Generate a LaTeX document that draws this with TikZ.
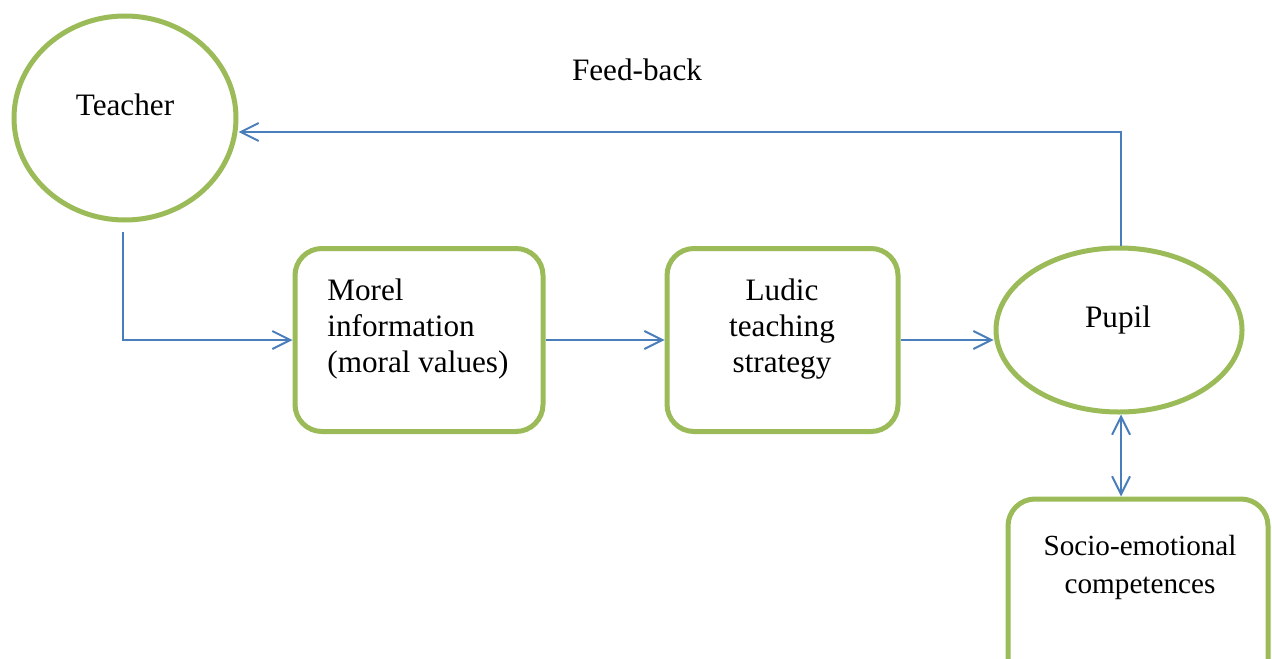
\documentclass[tikz,border=0pt]{standalone}
\usepackage{fontspec}
\setmainfont{Liberation Serif}
\usetikzlibrary{arrows.meta,shapes.geometric}
\definecolor{olivegreen}{HTML}{9BBB59}
\definecolor{linkblue}{HTML}{4A7EBB}
\tikzset{
  oval/.style={ellipse, draw=olivegreen, line width=2.5pt, inner sep=0pt},
  roundbox/.style={rectangle, rounded corners=13.5pt, draw=olivegreen, line width=2.5pt, inner sep=0pt},
  lbl/.style={inner sep=0pt, font=\fontsize{15.6}{18}\selectfont},
  smalllbl/.style={inner sep=0pt, font=\fontsize{14.6}{19}\selectfont},
  conn/.style={draw=linkblue, line width=1pt, -{Straight Barb[length=9pt,width=9pt]}},
  biconn/.style={draw=linkblue, line width=1pt, {Straight Barb[length=9pt,width=9pt]}-{Straight Barb[length=9pt,width=9pt]}}
}
\begin{document}
\begin{tikzpicture}[x=0.5pt,y=-0.5pt]
\clip (0,0) rectangle (1272,658);
% shapes
\node[oval, minimum width=111pt, minimum height=102pt] (teacher) at (125,118) {};
\node[roundbox, minimum width=124pt, minimum height=91.5pt] (morel) at (419,340) {};
\node[roundbox, minimum width=115.5pt, minimum height=91.5pt] (ludic) at (782.5,340) {};
\node[oval, minimum width=123pt, minimum height=82pt] (pupil) at (1119,330) {};
\node[roundbox, minimum width=130pt, minimum height=130pt] (socio) at (1138,629) {};
% texts
\node[lbl, anchor=base] (teachertext) at (125,115) {Teacher};
\node[lbl, anchor=base] (feedback) at (637,81) {Feed-back};
\node[lbl, anchor=base west, align=left] (moreltext) at (327,372) {Morel\\information\\(moral values)};
\node[lbl, anchor=base, align=center] (ludictext) at (782,372) {Ludic\\teaching\\strategy};
\node[lbl, anchor=base] (pupiltext) at (1118,327) {Pupil};
\node[smalllbl, anchor=base, align=center] (sociotext) at (1140,593) {Socio-emotional\\competences};
% connectors
\coordinate (tstart) at (123,232);
\coordinate (fbcorner) at (1121,132);
\draw[conn] (tstart) |- (morel.west);
\draw[conn] (morel.east) -- (ludic.west);
\draw[conn] (ludic.east) -- (ludic.east -| pupil.west);
\draw[conn] (pupil.north -| fbcorner) -- (fbcorner) -- (teacher.east |- fbcorner);
\draw[biconn] (pupil.south -| fbcorner) -- (socio.north -| fbcorner);
\end{tikzpicture}
\end{document}
